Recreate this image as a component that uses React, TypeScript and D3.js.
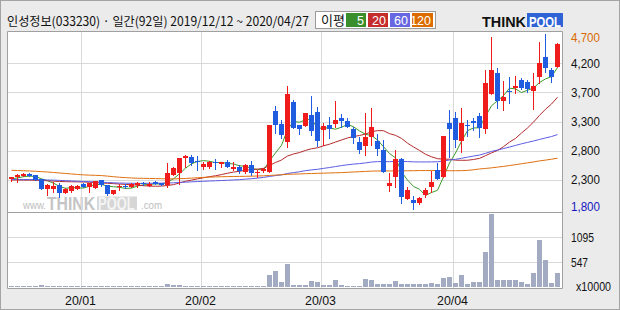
import React from 'react';
import * as d3 from 'd3';

// ---- data (인성정보 033230, daily, 2019/12/12 ~ 2020/04/27, 92 trading days) ----
const opens = [2290,2335,2345,2380,2365,2290,2130,2130,2200,2070,2100,2135,2210,2170,2155,2280,2200,2055,2160,2180,
  2170,2200,2235,2180,2255,2225,2200,2365,2390,2640,2665,2600,2500,2500,2575,2545,2575,2470,2500,2410,
  2530,2410,2435,2420,3425,3210,2915,3575,3190,3180,3360,3405,3110,3185,3210,3305,3260,3125,2915,2845,
  3000,2925,2780,2185,2335,2630,1970,1950,1895,2030,2170,2445,2335,3230,3305,2930,3190,3265,3340,3125,
  3705,4060,3595,3760,3800,3940,3910,3755,3990,4325,4105,4160];
const highs = [2335,2375,2390,2390,2370,2295,2210,2255,2225,2140,2190,2200,2235,2230,2270,2285,2205,2120,2210,2210,
  2225,2255,2245,2255,2270,2235,2565,2500,2650,2690,2695,2685,2585,2595,2630,2580,2610,2575,2530,2540,
  2595,2445,2480,3200,3505,3275,3840,3600,3200,3390,3675,3495,3220,3330,3590,3375,3305,3165,3000,3385,
  3480,3045,2945,2390,2780,2640,2160,2015,1995,2145,2430,2555,3015,3440,3410,3470,3275,3305,3395,4105,
  4645,4140,3925,3990,4005,3965,3940,4060,4570,4700,4140,4555];
const lows = [2260,2255,2340,2340,2275,2130,2030,2085,2005,2060,2090,2130,2165,2085,2150,2185,2030,2050,2115,2145,
  2165,2170,2205,2175,2210,2195,2170,2360,2210,2500,2530,2440,2460,2475,2465,2500,2495,2445,2390,2400,
  2365,2335,2420,2415,3065,2970,2835,3140,3040,3175,3025,2845,2860,2970,3155,3165,3160,2890,2735,2695,
  2860,2695,2415,2105,2170,1895,1965,1800,1890,1995,2085,2290,2330,2665,2835,2750,3010,3110,2995,3065,
  3700,3470,3440,3550,3715,3795,3745,3455,3885,4075,3910,4155];
const closes = [2325,2365,2380,2345,2280,2135,2200,2185,2070,2130,2180,2185,2170,2225,2265,2190,2050,2115,2180,2170,
  2215,2225,2210,2220,2215,2200,2390,2475,2640,2680,2555,2590,2545,2585,2570,2575,2500,2500,2435,2530,
  2390,2420,2460,3190,3190,3025,3705,3145,3125,3385,3100,2930,3175,3130,3275,3265,3165,2980,2780,3000,
  3165,2795,2420,2225,2630,2005,2115,1895,1985,2115,2255,2300,3010,3130,2945,3230,3180,3230,3145,3895,
  4105,3595,3660,3755,3840,3800,3785,3840,4215,4140,3990,4535];
// volume, x10000 shares
const volumes = [28,25,24,22,30,35,30,27,32,26,24,22,23,25,28,26,30,24,22,21,
  23,22,21,24,22,22,57,35,40,30,28,26,25,24,23,22,23,22,21,22,
  23,25,24,265,355,120,505,50,50,40,140,100,50,50,160,50,30,30,30,182,
  160,73,73,73,124,73,55,55,55,55,80,73,204,226,94,269,72,116,101,758,
  1605,160,160,160,160,116,72,313,1036,598,94,313];
const volAxisMax = 1642;

const ma5Head = [2300,2315,2335,2345];
const ma20Head = [2281,2280,2279,2278,2276,2273,2268,2262,2256,2253,2251,2250,2248,2244,2238,2231,2226,2220,2214];
const ma60Head = [2290,2290,2289,2288,2287,2284,2281,2278,2274,2270,2265,2260,2256,2252,2248,2244,2238,2234,2230,2228,
  2226,2225,2225,2226,2227,2228,2231,2234,2240,2245,2250,2255,2260,2264,2268,2272,2276,2281,2286,2295,
  2302,2312,2324,2339,2354,2366,2389,2403,2417,2435,2448,2458,2473,2487,2503,2519,2533,2544,2552];
const ma120 = [2441,2438,2434,2430,2425,2419,2413,2405,2397,2389,2381,2372,2365,2361,2358,2354,2345,2335,2326,2320,
  2314,2310,2308,2306,2304,2302,2300,2299,2302,2306,2312,2318,2324,2328,2332,2335,2337,2339,2340,2342,
  2344,2347,2350,2356,2362,2368,2375,2378,2381,2385,2388,2391,2394,2397,2400,2403,2408,2413,2418,2423,
  2428,2430,2431,2431,2432,2432,2433,2435,2437,2437,2437,2436,2435,2434,2434,2436,2440,2450,2463,2472,
  2482,2494,2506,2520,2535,2550,2565,2580,2597,2610,2625,2642];

const monthTickIndex = [12, 32, 52, 74];
const monthTickLabels = ['20/01', '20/02', '20/03', '20/04'];
const priceTickLabels = ['4,700', '4,200', '3,700', '3,300', '2,800', '2,300', '1,800'];
const volTickLabels = ['1095', '547'];
const maPeriods = ['5', '20', '60', '120'];
const maColors = ['#3e9a2c', '#b42a2c', '#5c5ce4', '#e07010'];
const legendColors = ['#3b8e2c', '#c52c2c', '#6767e2', '#dc6c00'];
const title = '인성정보(033230) · 일간(92일) 2019/12/12 ~ 2020/04/27';

function movingAverage(vals: number[], period: number, head: number[]) {
  return vals.map((_, i) =>
    i < period - 1 ? head[i] : (d3.mean(vals.slice(i - period + 1, i + 1)) as number));
}

const RED = '#f01c1c';
const BLUE = '#1f5ce0';
const LABEL_FONT = "'Liberation Sans', Arial, sans-serif";
const KR_FONT = "'Noto Sans CJK KR', sans-serif";

export default function App() {
  const n = closes.length;
  const x = d3.scaleLinear().domain([0, n - 1]).range([11.5, 557.5]);
  const lo = d3.min(lows) as number;
  const hi = d3.max(highs) as number;
  const y = d3.scaleLinear().domain([lo, hi]).range([209, 34]);
  const yv = d3.scaleLinear().domain([0, volAxisMax]).range([287, 212]);

  const ma5 = movingAverage(closes, 5, ma5Head);
  const ma20 = movingAverage(closes, 20, ma20Head);
  const ma60 = movingAverage(closes, 60, ma60Head);
  const maSeries = [ma5, ma20, ma60, ma120];

  const line = d3.line<number>().x((_, i) => x(i)).y((v) => y(v));

  const gridVals = d3.range(0, 7).map((k) => hi - (k * (hi - lo)) / 6);
  const volGridVals = [(2 * volAxisMax) / 3, volAxisMax / 3];

  const plotL = 7.5, plotR = 562.5, plotT = 31.5, sepY = 212.5, plotB = 288.5;

  return (
    <svg width={620} height={310} style={{ position: 'fixed', left: 0, top: 0, display: 'block' }}
      xmlns="http://www.w3.org/2000/svg">
      <rect x={0} y={0} width={620} height={310} fill="#ebebeb" />
      <rect x={0.5} y={0.5} width={619} height={309} fill="none" stroke="#a4a4a4" />

      {/* header */}
      <text x={7} y={26} fontFamily={KR_FONT} fontSize={12.5} fill="#111"
        textLength={302} lengthAdjust="spacingAndGlyphs">{title}</text>
      <rect x={315.5} y={11.5} width={120} height={17} fill="#fff" stroke="#9a9a9a" />
      <text x={321} y={25} fontFamily={KR_FONT} fontSize={13} fill="#111">이평</text>
      {maPeriods.map((p, i) => {
        const bx = [346, 368, 390, 412][i];
        const bw = [20, 20, 20, 21][i];
        return (
          <g key={p}>
            <rect x={bx} y={13} width={bw} height={14} fill={legendColors[i]} />
            <text x={bx + bw - 2} y={25} textAnchor="end" fontFamily={LABEL_FONT} fontSize={12.5} fill="#fff">{p}</text>
          </g>
        );
      })}
      {/* logo */}
      <text x={482} y={27} fontFamily={LABEL_FONT} fontWeight="bold" fontSize={15} fill="#111"
        textLength={44} lengthAdjust="spacingAndGlyphs">THINK</text>
      <rect x={527} y={13} width={36} height={14} fill="#2f63d6" />
      <text x={529} y={26.5} fontFamily={LABEL_FONT} fontWeight="bold" fontSize={14} fill="#fff"
        textLength={32} lengthAdjust="spacingAndGlyphs">POOL</text>

      {/* plot panels */}
      <rect x={plotL} y={plotT} width={plotR - plotL} height={plotB - plotT} fill="#fff" />

      {/* watermark */}
      <g>
        <text x={23} y={209} fontFamily={LABEL_FONT} fontSize={11} fill="#bdbdbd"
          textLength={23} lengthAdjust="spacingAndGlyphs">www.</text>
        <text transform="translate(47,209.5) scale(0.9,1)" fontFamily={LABEL_FONT} fontWeight="bold"
          fontSize={17.5} fill="#c4c4c4">THINK</text>
        <rect x={97} y={196.5} width={40} height={13.5} fill="#d6d6d6" />
        <text transform="translate(98,209.5) scale(0.74,1)" fontFamily={LABEL_FONT} fontWeight="bold"
          fontSize={17.5} fill="#f4f4f4">POOL</text>
        <text x={141} y={209} fontFamily={LABEL_FONT} fontSize={11.5} fill="#bdbdbd"
          textLength={21} lengthAdjust="spacingAndGlyphs">.com</text>
      </g>

      {/* grid */}
      {gridVals.slice(1, 6).map((v, k) => {
        const gy = Math.round(y(v)) + 0.5;
        return <line key={'g' + k} x1={plotL + 0.5} x2={plotR - 0.5} y1={gy} y2={gy} stroke="#d9d9d9" />;
      })}
      {volGridVals.map((v, k) => {
        const gy = Math.round(yv(v)) + 0.5;
        return <line key={'vg' + k} x1={plotL + 0.5} x2={plotR - 0.5} y1={gy} y2={gy} stroke="#d9d9d9" />;
      })}
      {monthTickIndex.map((idx, k) => {
        const gx = Math.round(x(idx) - 3) + 0.5;
        return <line key={'vx' + k} x1={gx} x2={gx} y1={plotT + 0.5} y2={plotB - 0.5} stroke="#d9d9d9" />;
      })}

      {/* volume bars */}
      {volumes.map((v, i) => {
        const top = Math.round(yv(v));
        const h = Math.max(1, Math.round(yv(0)) - top);
        return <rect key={'v' + i} x={x(i) - 2.5} y={Math.round(yv(0)) - h} width={5} height={h} fill="#a3abc3" />;
      })}

      {/* moving averages */}
      {maSeries.map((s, k) => (
        <path key={'ma' + k} d={line(s) || ''} fill="none" stroke={maColors[k]} strokeWidth={1} />
      ))}

      {/* candles */}
      {closes.map((c, i) => {
        const o = opens[i];
        const up = c >= o;
        const col = up ? RED : BLUE;
        const top = Math.round(y(Math.max(o, c)));
        const bot = Math.round(y(Math.min(o, c)));
        const h = Math.max(1, bot - top);
        const cx = x(i);
        return (
          <g key={'c' + i}>
            <line x1={cx} x2={cx} y1={Math.round(y(highs[i]))} y2={Math.round(y(lows[i])) + 1} stroke={col} />
            <rect x={cx - 2.5} y={top} width={5} height={h} fill={col} />
          </g>
        );
      })}

      {/* frame */}
      <line x1={plotL} x2={plotL} y1={plotT} y2={plotB} stroke="#a0a0a0" />
      <line x1={plotR} x2={plotR} y1={plotT} y2={plotB} stroke="#a0a0a0" />
      <line x1={plotL} x2={plotR} y1={plotT} y2={plotT} stroke="#a0a0a0" />
      <line x1={plotL} x2={plotR} y1={sepY} y2={sepY} stroke="#a0a0a0" />
      <line x1={plotL} x2={plotR} y1={plotB} y2={plotB} stroke="#a0a0a0" />

      {/* right price labels */}
      {priceTickLabels.map((t, k) => {
        const cy = Math.min(206.7, Math.max(37.3, y(gridVals[k])));
        const fill = k === 0 ? '#d86a00' : k === priceTickLabels.length - 1 ? '#1414c0' : '#111';
        return (
          <text key={'pl' + k} x={571} y={cy + 4.6} fontFamily={LABEL_FONT} fontSize={13} fill={fill}
            textLength={t.length * 6 - 1} lengthAdjust="spacingAndGlyphs">{t}</text>
        );
      })}
      {volTickLabels.map((t, k) => (
        <text key={'vl' + k} x={571} y={yv(volGridVals[k]) + 4.9} fontFamily={LABEL_FONT} fontSize={13} fill="#111"
          textLength={t.length * 6 - 1} lengthAdjust="spacingAndGlyphs">{t}</text>
      ))}
      <text x={576} y={290.5} fontFamily={LABEL_FONT} fontSize={13} fill="#111"
        textLength={35} lengthAdjust="spacingAndGlyphs">x10000</text>

      {/* x labels */}
      {monthTickIndex.map((idx, k) => (
        <text key={'xl' + k} x={x(idx) - 3} y={305} textAnchor="middle" fontFamily={LABEL_FONT} fontSize={13}
          fill="#111" textLength={31} lengthAdjust="spacingAndGlyphs">{monthTickLabels[k]}</text>
      ))}
    </svg>
  );
}
